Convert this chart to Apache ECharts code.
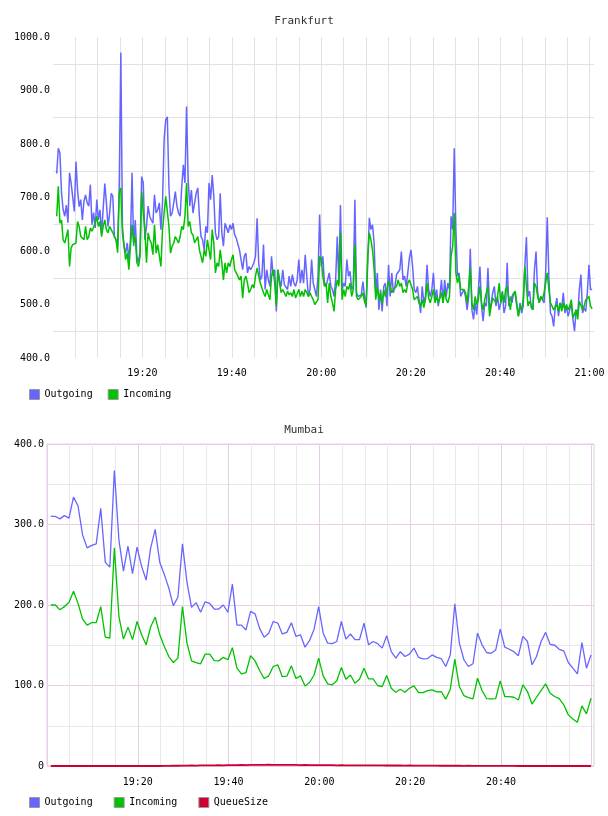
<!DOCTYPE html>
<html>
<head>
<meta charset="utf-8">
<title>Frankfurt / Mumbai</title>
<script src="https://cdn.jsdelivr.net/npm/echarts@6/dist/echarts.min.js"></script>
<style>
  html, body { margin: 0; padding: 0; background: #fff; }
  #chart { width: 608px; height: 816px; }
</style>
</head>
<body>
<div id="chart"></div>
<script>
// minutes after 19:00 for the first sample, and the sample spacing
const frankfurtStart = 0.83
const frankfurtStep = 0.35855
const mumbaiStart = 0.84
const mumbaiStep = 1.0

const frankfurtOutgoing = [
  745,792,783,709,677,665,686,653,746,727,700,
  674,767,714,683,696,658,693,705,690,684,
  724,649,672,643,696,658,677,633,633,726,690,
  646,670,708,702,627,621,609,720,971,646,
  609,596,615,584,621,746,609,658,590,578,600,
  739,727,621,646,684,665,658,652,705,671,
  677,690,640,690,808,845,851,720,665,671,690,
  711,684,671,665,720,761,727,870,733,684,714,671,
  671,708,718,665,627,621,602,646,634,727,
  696,742,702,634,621,627,708,634,609,652,
  655,634,649,640,652,630,624,621,602,584,
  565,590,596,559,571,565,571,578,590,661,
  578,546,553,612,528,565,546,534,590,553,
  565,487,565,546,534,565,537,540,528,553,
  534,556,540,534,546,584,540,565,540,593,
  553,515,528,584,540,528,515,553,668,571,
  590,540,534,534,
  559,534,528,515,546,627,540,686,528,540,
  534,584,553,562,528,534,696,522,515,515,
  518,543,515,494,578,662,640,649,615,522,
  559,490,528,487,534,540,497,574,515,559,
  522,534,556,553,565,599,546,553,534,559,
  587,602,571,528,522,534,509,484,534,503,
  515,574,528,515,528,559,509,528,497,515,
  546,503,546,515,540,528,665,640,792,640,
  553,559,515,522,
  528,515,490,515,604,490,472,503,481,484,571,497,469,503,
  497,568,490,503,522,534,497,515,490,503,525,484,497,578,
  497,515,503,522,518,497,478,503,484,497,571,626,515,525,
  494,490,565,599,522,503,515,512,503,559,663,553,484,478,459,
  497,512,478,503,494,522,484,497,478,490,503,472,450,
  490,481,528,556,484,494,487,522,574,528,528
]

const frankfurtIncoming = [
  665,721,652,658,621,615,627,640,571,606,612,
  609,615,655,646,627,624,621,646,621,627,
  643,637,640,652,665,646,655,627,646,658,640,
  634,646,649,634,627,621,597,709,718,634,
  609,584,596,565,609,649,615,627,578,571,590,
  711,671,640,578,634,621,615,593,649,596,
  612,609,571,640,671,702,699,646,596,609,615,
  627,621,615,627,646,640,665,727,646,655,634,630,
  615,618,627,602,590,578,602,590,621,602,
  584,640,615,559,578,571,602,578,546,578,
  559,578,571,584,593,565,559,553,546,553,
  512,546,553,540,522,528,537,531,553,568,
  553,540,540,522,515,528,518,509,553,565,
  540,497,565,540,522,528,522,515,525,518,
  522,515,528,512,509,528,515,525,515,528,
  522,515,522,515,509,500,497,509,590,584,
  553,534,540,503,
  540,515,503,487,528,546,534,634,509,528,
  515,534,528,540,515,528,612,515,509,506,
  515,522,506,497,590,634,621,602,565,509,
  534,509,522,500,528,515,512,543,534,522,
  528,528,534,546,534,540,522,528,522,540,
  546,537,528,509,506,515,503,497,509,494,
  509,540,512,503,515,528,503,515,503,512,
  522,503,528,509,503,515,590,609,671,559,
  540,553,528,525,
  528,522,503,534,568,503,490,515,500,509,534,503,490,509,
  522,534,478,497,512,509,503,515,540,503,522,503,528,534,
  509,490,515,518,525,503,478,497,490,509,571,572,497,506,
  503,490,540,534,515,503,515,509,522,540,559,528,503,497,490,
  490,500,487,503,487,503,490,500,490,497,509,475,478,
  490,472,506,503,490,497,509,509,515,497,492
]

const mumbaiOutgoing = [
  310,310,307,311,308,334,323,287,271,274,
  276,320,253,247,367,281,242,273,239,272,
  248,231,271,294,253,238,221,199,210,276,
  228,197,203,191,204,202,195,195,200,191,
  226,175,175,169,192,189,171,160,165,179.5,
  177.5,164,166,178,161,163,147.6,156,170,198,
  165,152.6,152,154.7,179.5,157.6,164,157,157,177.5,
  150.5,154.7,152,146.4,161.7,142,134,142,136,139,
  146.4,135,133,133.5,138,135,133.5,123.6,138,201.5,
  152.6,132,123.6,127,165,150.5,141,140,144,170,
  147.6,145,142,137,161,154.7,125.7,136,154.7,166,
  151,150,145,143,128.6,121.5,114.5,153.4,121.5,138
]

const mumbaiIncoming = [
  200,200,194,198,203,217,202,182.5,175,178,
  178,198,160,159,271,186,157.6,172.5,157,179.5,
  163,150.5,173,185,163,148.5,136,128.5,134,198,
  152.6,130.6,128.5,127,139,139,131,130.6,135,132,
  147,121.5,114.5,116,137,130.6,118.6,108.7,112,123.6,
  125.7,111,111.6,124.4,108.7,112,99.5,103.7,113,134,
  112,102,100.8,105.8,122.3,107.8,113,102.8,107.8,121.5,
  108.2,108.2,100,98.7,112.4,96.6,91.7,95.4,91.7,96.6,
  99.5,91.2,91.2,93.7,94.6,92,92.5,83,95.4,132.7,
  98.7,87.5,85,83.4,109,93.7,83.8,83.4,83.8,105.8,
  86.3,86.3,85.4,82,100.8,92.5,77,85.4,93.7,102,
  90.4,86.3,83.8,76,63.5,58.5,54.3,74.7,64.7,84.2
]

const mumbaiQueueSize = [
  0,0,0,0,0,0,0,0,0,0,
  0,0,0,0,0,0,0,0,0,0,
  0,0,0,0,0,0.2,0.1,0.3,0.3,0.5,
  0.4,0.6,0.5,0.7,0.8,0.7,0.9,1.0,0.9,1.1,
  1.2,1.1,1.3,1.2,1.4,1.3,1.5,1.4,1.6,1.5,
  1.5,1.4,1.5,1.3,1.4,1.2,1.3,1.2,1.1,1.2,
  1.0,1.1,1.0,0.9,1.0,0.9,0.8,0.9,0.8,0.8,
  0.7,0.8,0.7,0.7,0.6,0.7,0.6,0.6,0.5,0.6,
  0.5,0.5,0.4,0.5,0.4,0.4,0.3,0.4,0.3,0.3,
  0.3,0.2,0.3,0.2,0.2,0.2,0.1,0.2,0.1,0.1,
  0.1,0.1,0.1,0,0.1,0,0,0,0,0,
  0,0,0,0,0,0,0,0,0,0
]

const frankfurtTickMinutes = [20, 40, 60, 80, 100, 120]
const frankfurtTickLabels = ['19:20', '19:40', '20:00', '20:20', '20:40', '21:00']
const mumbaiTickMinutes = [20, 40, 60, 80, 100]
const mumbaiTickLabels = ['19:20', '19:40', '20:00', '20:20', '20:40']

const blue = '#6666ff'
const green = '#00c200'
const crimson = '#cc0033'
const mono = 'DejaVu Sans Mono'
const gridGray = '#e2e2e2'
const gridPink = '#e6cfe6'
const minorGray = '#e9e9e9'

const toPoints = (values, start, step) => values.map((v, i) => [start + i * step, v])

const timeFormatter = (minutes, labels) => v => {
  const i = minutes.indexOf(Math.round(v * 1000) / 1000)
  return i >= 0 ? labels[i] : ''
}

const chart = echarts.init(document.getElementById('chart'), null, { renderer: 'canvas' })

chart.setOption({
  animation: false,
  backgroundColor: '#fff',
  textStyle: { fontFamily: mono },
  title: [
    { text: 'Frankfurt', left: 'center', top: 11,
      textStyle: { fontFamily: mono, fontSize: 11, fontWeight: 'normal', color: '#333' } },
    { text: 'Mumbai', left: 'center', top: 420,
      textStyle: { fontFamily: mono, fontSize: 11, fontWeight: 'normal', color: '#333' } }
  ],
  legend: [
    {
      data: ['Outgoing', 'Incoming'], left: 24, top: 384,
      icon: 'rect', itemWidth: 10, itemHeight: 10, itemGap: 15,
      itemStyle: { borderColor: '#999', borderWidth: 1 },
      textStyle: { fontFamily: mono, fontSize: 10, color: '#000' },
      selectedMode: false
    },
    {
      data: ['Outgoing', 'Incoming', 'QueueSize'], left: 24, top: 792,
      icon: 'rect', itemWidth: 10, itemHeight: 10, itemGap: 21,
      itemStyle: { borderColor: '#999', borderWidth: 1 },
      textStyle: { fontFamily: mono, fontSize: 10, color: '#000' },
      selectedMode: false
    }
  ],
  grid: [
    { left: 53, top: 37, width: 541, height: 321, show: false },
    { left: 47, top: 444, width: 547, height: 322, show: true,
      borderColor: gridPink, borderWidth: 1, backgroundColor: 'transparent' }
  ],
  xAxis: [
    {
      gridIndex: 0, type: 'value', min: 0, max: 121, interval: 5,
      axisLine: { show: false }, axisTick: { show: false },
      axisLabel: { formatter: timeFormatter(frankfurtTickMinutes, frankfurtTickLabels),
        fontFamily: mono, fontSize: 10, color: '#000', margin: 10,
        showMinLabel: false, showMaxLabel: false },
      splitLine: { show: true, showMinLine: false, showMaxLine: false,
        lineStyle: { color: gridGray, width: 1 } }
    },
    {
      gridIndex: 1, type: 'value', min: 0, max: 120.5, interval: 5,
      axisLine: { show: false }, axisTick: { show: false },
      axisLabel: { formatter: timeFormatter(mumbaiTickMinutes, mumbaiTickLabels),
        fontFamily: mono, fontSize: 10, color: '#000', margin: 11,
        showMinLabel: false, showMaxLabel: false },
      splitLine: { show: true,
        lineStyle: { color: [gridPink, minorGray, minorGray, minorGray], width: 1 } }
    }
  ],
  yAxis: [
    {
      gridIndex: 0, type: 'value', min: 400, max: 1000, interval: 50,
      axisLine: { show: false }, axisTick: { show: false },
      axisLabel: { formatter: v => (v % 100 === 0 ? v.toFixed(1) : ''),
        fontFamily: mono, fontSize: 10, color: '#000', margin: 3 },
      splitLine: { show: true, lineStyle: { color: ['transparent', gridGray], width: 1 } }
    },
    {
      gridIndex: 1, type: 'value', min: 0, max: 400, interval: 50,
      axisLine: { show: false }, axisTick: { show: false },
      axisLabel: { formatter: v => (v === 0 ? '0' : v % 100 === 0 ? v.toFixed(1) : ''),
        fontFamily: mono, fontSize: 10, color: '#000', margin: 3 },
      splitLine: { show: true, lineStyle: { color: [gridPink, minorGray], width: 1 } }
    }
  ],
  series: [
    { name: 'Outgoing', type: 'line', xAxisIndex: 0, yAxisIndex: 0, showSymbol: false,
      color: blue, lineStyle: { color: blue, width: 1.5 },
      data: toPoints(frankfurtOutgoing, frankfurtStart, frankfurtStep) },
    { name: 'Incoming', type: 'line', xAxisIndex: 0, yAxisIndex: 0, showSymbol: false,
      color: green, lineStyle: { color: green, width: 1.5 },
      data: toPoints(frankfurtIncoming, frankfurtStart, frankfurtStep) },
    { name: 'Outgoing', type: 'line', xAxisIndex: 1, yAxisIndex: 1, showSymbol: false,
      color: blue, lineStyle: { color: blue, width: 1.3 },
      data: toPoints(mumbaiOutgoing, mumbaiStart, mumbaiStep) },
    { name: 'Incoming', type: 'line', xAxisIndex: 1, yAxisIndex: 1, showSymbol: false,
      color: green, lineStyle: { color: green, width: 1.3 },
      data: toPoints(mumbaiIncoming, mumbaiStart, mumbaiStep) },
    { name: 'QueueSize', type: 'line', xAxisIndex: 1, yAxisIndex: 1, showSymbol: false,
      color: crimson, lineStyle: { color: crimson, width: 1.8 },
      data: toPoints(mumbaiQueueSize, mumbaiStart, mumbaiStep) }
  ]
})
</script>
</body>
</html>
